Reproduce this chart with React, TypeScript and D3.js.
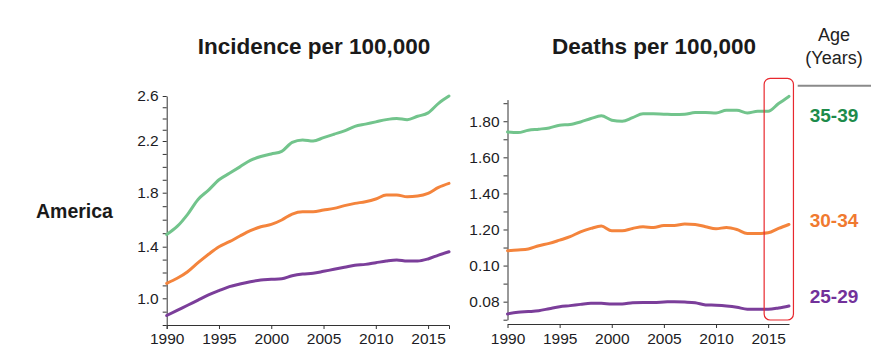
import { useRef, useEffect } from 'react';
import * as d3 from 'd3';

const WIDTH = 884;
const HEIGHT = 353;

const years = [
  1990, 1991, 1992, 1993, 1994, 1995, 1996, 1997, 1998, 1999,
  2000, 2001, 2002, 2003, 2004, 2005, 2006, 2007, 2008, 2009,
  2010, 2011, 2012, 2013, 2014, 2015, 2016, 2017,
];

// Incidence per 100,000
const incidence3539 = [
  1.49, 1.55, 1.64, 1.75, 1.82, 1.9, 1.95, 2.0, 2.05, 2.08,
  2.1, 2.12, 2.19, 2.21, 2.2, 2.23, 2.26, 2.29, 2.33, 2.35,
  2.37, 2.39, 2.4, 2.39, 2.42, 2.45, 2.535, 2.6,
];
const incidence3034 = [
  1.116, 1.155, 1.206, 1.276, 1.341, 1.4, 1.437, 1.479, 1.519, 1.548,
  1.565, 1.598, 1.642, 1.659, 1.659, 1.672, 1.684, 1.704, 1.721, 1.733,
  1.753, 1.783, 1.783, 1.77, 1.775, 1.795, 1.841, 1.872,
];
const incidence2529 = [
  0.871, 0.91, 0.948, 0.987, 1.026, 1.059, 1.09, 1.111, 1.129, 1.142,
  1.147, 1.152, 1.175, 1.188, 1.194, 1.209, 1.225, 1.24, 1.256, 1.263,
  1.276, 1.289, 1.297, 1.289, 1.289, 1.305, 1.335, 1.361,
];

// Deaths per 100,000
const deaths3539 = [
  1.741, 1.737, 1.75, 1.756, 1.763, 1.778, 1.782, 1.796, 1.815, 1.83,
  1.806, 1.8, 1.82, 1.842, 1.841, 1.839, 1.837, 1.839, 1.848, 1.848,
  1.846, 1.861, 1.861, 1.846, 1.855, 1.855, 1.898, 1.938,
];
const deaths3034 = [
  1.082, 1.086, 1.092, 1.11, 1.123, 1.141, 1.16, 1.187, 1.206, 1.219,
  1.193, 1.193, 1.206, 1.215, 1.211, 1.222, 1.222, 1.23, 1.228, 1.215,
  1.204, 1.211, 1.2, 1.178, 1.178, 1.182, 1.206, 1.228,
];
const deaths2529 = [
  0.732, 0.741, 0.745, 0.75, 0.761, 0.772, 0.778, 0.785, 0.791, 0.791,
  0.787, 0.787, 0.794, 0.796, 0.796, 0.798, 0.8, 0.798, 0.794, 0.782,
  0.78, 0.776, 0.769, 0.758, 0.758, 0.758, 0.765, 0.776,
];

const ageGroups = ['35-39', '30-34', '25-29'];
const lineColors = ['#72c48c', '#f4843c', '#7b3e9a'];
const labelColors = ['#1d8b4b', '#f07a30', '#72319a'];

const xTickYears = [1990, 1995, 2000, 2005, 2010, 2015];
const incidenceTickLabels = [1.0, 1.4, 1.8, 2.2, 2.6];
const incidenceMinorTicks = [0.8, 0.9, 1.0, 1.1, 1.2, 1.3, 1.4, 1.5, 1.6, 1.7, 1.8, 1.9, 2.0, 2.1, 2.2, 2.3, 2.4, 2.5, 2.6];
const deathTickValues = [0.8, 1.0, 1.2, 1.4, 1.6, 1.8];
const deathTickLabels = ['0.08', '0.10', '1.20', '1.40', '1.60', '1.80'];
const deathMinorTicks = [0.7, 0.8, 0.9, 1.0, 1.1, 1.2, 1.3, 1.4, 1.5, 1.6, 1.7, 1.8, 1.9];

const FONT = "'Liberation Sans', Arial, sans-serif";

const App = () => {
  const svgRef = useRef<SVGSVGElement>(null);

  useEffect(() => {
    document.body.style.margin = '0';
    const svg = d3.select(svgRef.current);
    svg.selectAll('*').remove();

    const line = (x, y) =>
      d3.line<number>()
        .x((d, i) => x(years[i]))
        .y(d => y(d))
        .curve(d3.curveMonotoneX);

    const styleAxis = (g) => {
      g.select('.domain').attr('stroke', '#333').attr('stroke-width', 1);
      g.selectAll('.tick line').attr('stroke', '#333');
      g.selectAll('.tick text')
        .attr('font-family', FONT)
        .attr('font-size', 15.5)
        .attr('fill', '#1c1c24');
    };

    // ---- Incidence panel ----
    const xInc = d3.scaleLinear().domain([1990, 2017]).range([166.7, 449]);
    const yInc = d3.scaleLinear()
      .domain([0.8, 1.0, 1.4, 1.8, 2.2, 2.6])
      .range([325, 298.3, 246.7, 192.7, 141, 96]);

    svg.append('g')
      .attr('transform', `translate(${xInc(1990)},0)`)
      .call(d3.axisLeft(yInc)
        .tickValues(incidenceMinorTicks)
        .tickSize(4)
        .tickSizeOuter(0)
        .tickPadding(4)
        .tickFormat(d => incidenceTickLabels.some(v => Math.abs(v - +d) < 1e-6) ? d3.format('.1f')(d) : ''))
      .call(styleAxis);

    svg.append('g')
      .attr('transform', 'translate(0,325)')
      .call(d3.axisBottom(xInc)
        .tickValues(xTickYears)
        .tickSize(4)
        .tickSizeOuter(4)
        .tickPadding(4)
        .tickFormat(d3.format('d')))
      .call(styleAxis);

    const incSeries = [incidence3539, incidence3034, incidence2529];
    incSeries.forEach((s, i) => {
      svg.append('path')
        .datum(s)
        .attr('fill', 'none')
        .attr('stroke', lineColors[i])
        .attr('stroke-width', 3)
        .attr('stroke-linejoin', 'round')
        .attr('stroke-linecap', 'round')
        .attr('d', line(xInc, yInc));
    });

    // ---- Deaths panel ----
    const xDeath = d3.scaleLinear().domain([1990, 2017]).range([507.5, 789]);
    const yDeath = d3.scaleLinear().domain([0.7, 1.92]).range([319.7, 99.6]);

    svg.append('g')
      .attr('transform', `translate(${xDeath(1990)},0)`)
      .call(d3.axisLeft(yDeath)
        .tickValues(deathMinorTicks)
        .tickSize(4)
        .tickSizeOuter(0)
        .tickPadding(4)
        .tickFormat(d => {
          const k = deathTickValues.findIndex(v => Math.abs(v - +d) < 1e-6);
          return k >= 0 ? deathTickLabels[k] : '';
        }))
      .call(styleAxis);

    svg.append('g')
      .attr('transform', 'translate(0,324)')
      .call(d3.axisBottom(xDeath)
        .tickValues(xTickYears)
        .tickSize(4)
        .tickSizeOuter(0)
        .tickPadding(5)
        .tickFormat(d3.format('d')))
      .call(styleAxis);

    const deathSeries = [deaths3539, deaths3034, deaths2529];
    deathSeries.forEach((s, i) => {
      svg.append('path')
        .datum(s)
        .attr('fill', 'none')
        .attr('stroke', lineColors[i])
        .attr('stroke-width', 3)
        .attr('stroke-linejoin', 'round')
        .attr('stroke-linecap', 'round')
        .attr('d', line(xDeath, yDeath));
    });

    // highlight box around the last years
    svg.append('rect')
      .attr('x', xDeath(2015) - 4)
      .attr('y', 78.3)
      .attr('width', 29.3)
      .attr('height', 241.7)
      .attr('rx', 6)
      .attr('fill', 'none')
      .attr('stroke', '#e8282e')
      .attr('stroke-width', 1.2);

    // ---- titles ----
    const title = (text, x, y) =>
      svg.append('text')
        .attr('x', x)
        .attr('y', y)
        .attr('text-anchor', 'middle')
        .attr('font-family', FONT)
        .attr('font-weight', 'bold')
        .attr('font-size', 22.5)
        .attr('fill', '#1a1a1a')
        .text(text);

    title('Incidence per 100,000', 314, 54);
    title('Deaths per 100,000', 654, 54);

    svg.append('text')
      .attr('x', 36)
      .attr('y', 217.5)
      .attr('font-family', FONT)
      .attr('font-weight', 'bold')
      .attr('font-size', 19.5)
      .attr('fill', '#1a1a1a')
      .text('America');

    // ---- legend ----
    const legendX = 834;
    svg.append('text')
      .attr('x', legendX)
      .attr('y', 40.7)
      .attr('text-anchor', 'middle')
      .attr('font-family', FONT)
      .attr('font-size', 18)
      .attr('fill', '#222')
      .text('Age');
    svg.append('text')
      .attr('x', legendX)
      .attr('y', 63.5)
      .attr('text-anchor', 'middle')
      .attr('font-family', FONT)
      .attr('font-size', 18)
      .attr('fill', '#222')
      .text('(Years)');
    svg.append('line')
      .attr('x1', 797.7)
      .attr('x2', 871)
      .attr('y1', 85.7)
      .attr('y2', 85.7)
      .attr('stroke', '#8a8a8a')
      .attr('stroke-width', 2);

    const legendY = [121.7, 226.7, 302.7];
    ageGroups.forEach((g, i) => {
      svg.append('text')
        .attr('x', legendX)
        .attr('y', legendY[i])
        .attr('text-anchor', 'middle')
        .attr('font-family', FONT)
        .attr('font-weight', 'bold')
        .attr('font-size', 19)
        .attr('fill', labelColors[i])
        .text(g);
    });
  }, []);

  return (
    <svg ref={svgRef} width={WIDTH} height={HEIGHT} style={{ display: 'block', background: '#fff' }}></svg>
  );
};

export default App;
